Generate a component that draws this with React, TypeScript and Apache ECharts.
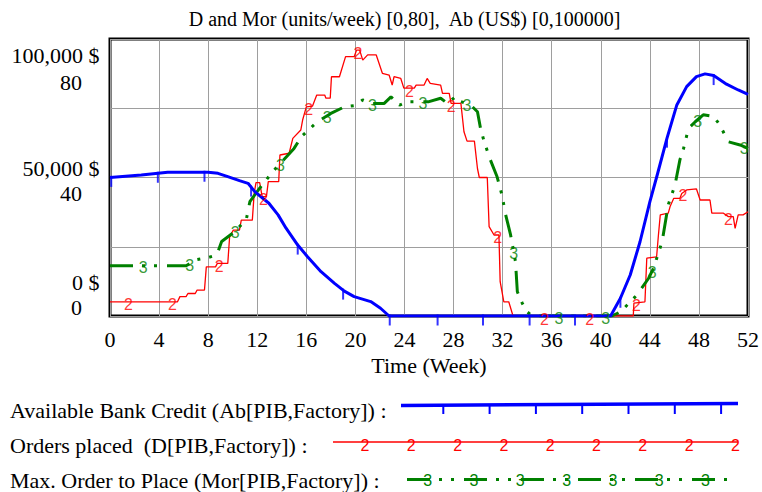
import React, { useEffect, useRef } from "react";
import * as echarts from "echarts";

// Time (Week), value pairs
const abData: [number, number][] = [
  [0, 50000], [2.55, 50900], [4.7, 51900], [8.0, 51900], [8.8, 51500], [9.6, 50300],
  [10.55, 48850], [11.25, 47900], [11.8, 44900], [12.95, 40700], [13.7, 36500], [14.35, 31700],
  [15.3, 25600], [16.1, 21400], [17.2, 16000], [18.3, 11800], [19.1, 9000], [19.9, 7000],
  [21.25, 5200], [22.05, 2800], [22.75, 0], [40.8, 0], [41.6, 6400], [42.4, 14800],
  [43.2, 26800], [44.0, 41200], [44.6, 50900], [45.4, 64200], [46.2, 76200], [47.0, 82800],
  [47.8, 86400], [48.5, 87400], [49.2, 86800], [50.25, 83700], [51.2, 81600], [52, 80000],
];

const dData: [number, number][] = [
  [0, 4.1], [5.5, 4.1], [5.7, 5.6], [6.2, 5.6], [6.35, 6.5], [6.95, 6.5], [7.1, 7.5], [7.7, 7.5],
  [7.85, 14.2], [8.6, 14.2], [8.75, 15.2], [9.6, 15.2], [9.75, 22.9], [10.05, 24.8], [10.55, 24.8],
  [10.7, 27.7], [11.6, 27.7], [11.75, 35.4], [11.9, 38.5], [12.2, 38.5], [12.4, 34.5], [12.75, 34.5],
  [12.9, 38.8], [13.75, 38.8], [13.85, 46.5], [14.6, 47.0], [14.9, 51.3], [15.55, 53.7], [15.7, 56.6],
  [16.0, 60.4], [16.5, 60.6], [16.85, 63.8], [17.5, 63.8], [17.6, 62.9], [17.95, 62.9], [18.05, 69.1],
  [18.7, 69.1], [19.2, 74.9], [19.9, 74.9], [20.1, 76.8], [20.35, 76.8], [20.6, 73.9], [21.0, 75.4],
  [21.7, 75.4], [22.2, 70.1], [22.75, 69.6], [23.0, 66.7], [23.15, 69.1], [23.7, 68.6], [23.95, 65.8],
  [24.8, 65.8], [24.95, 66.7], [25.6, 66.7], [25.85, 68.6], [26.1, 67.2], [26.95, 66.7], [27.1, 64.3],
  [27.65, 64.3], [27.8, 61.4], [28.6, 61.4], [28.85, 53.2], [29.1, 50.5], [29.7, 50.5], [29.95, 42.6],
  [30.1, 40.0], [30.75, 40.0], [30.9, 25.8], [31.3, 23.4], [31.7, 23.4], [31.8, 9.9], [32.1, 4.1],
  [32.5, 4.1], [32.85, 0], [42.65, 0], [42.7, 3.7], [43.6, 4.1], [43.75, 16.7], [44.55, 17.1],
  [44.7, 23.4], [44.85, 29.2], [45.5, 29.7], [45.65, 31.6], [45.95, 34.0], [46.45, 34.0], [46.6, 35.4],
  [47.0, 36.4], [47.8, 36.7], [48.1, 33.5], [48.9, 33.5], [49.05, 29.7], [50.0, 29.7], [50.4, 28.7],
  [50.8, 28.7], [50.95, 25.3], [51.2, 29.2], [51.6, 29.2], [52, 30.1],
];

const morData: [number, number][] = [
  [0, 14.5], [6.2, 14.5], [7.1, 16.3], [8.0, 16.9], [8.7, 17.6], [9.1, 21.5], [10.0, 23.9],
  [11.1, 27.7], [11.4, 33.0], [12.2, 36.9], [13.0, 40.5], [13.4, 42.2], [15.0, 48.4], [15.6, 51.8],
  [16.9, 56.1], [18.0, 58.5], [19.1, 60.4], [20.0, 60.8], [20.6, 62.4], [21.3, 61.4], [22.35, 61.4],
  [22.9, 63.3], [23.6, 60.9], [24.25, 61.9], [26.0, 61.9], [26.95, 62.9], [27.5, 61.4], [28.15, 63.3],
  [28.6, 61.9], [29.4, 60.9], [29.95, 59.0], [30.2, 54.2], [30.5, 50.3], [31.0, 45.1], [31.55, 40.2],
  [31.95, 34.9], [32.25, 29.2], [32.65, 23.4], [33.05, 15.7], [33.2, 7.0], [33.6, 3.7], [34.0, 1.2],
  [34.4, 0], [40.9, 0], [41.6, 1.2], [42.3, 3.7], [42.95, 6.1], [43.9, 10.9], [44.3, 13.8],
  [45.0, 21.5], [45.5, 32.1], [46.05, 37.8], [46.45, 45.1], [46.75, 48.4], [47.15, 54.2], [47.7, 56.1],
  [48.35, 58.1], [49.2, 57.6], [49.7, 55.2], [50.4, 50.3], [51.35, 49.4], [52, 48.4],
];

// weeks where the line markers sit
const abTickWeeks = [0.1, 3.9, 7.7, 11.5, 15.3, 19.0, 22.8, 26.7, 30.4, 34.2, 37.9, 41.6, 45.4, 49.2];
const dMarkWeeks = [1.5, 5.1, 8.9, 12.5, 16.2, 20.2, 24.4, 27.8, 31.6, 35.4, 39.1, 42.9, 46.7, 50.4];
const morMarkWeeks = [2.7, 6.5, 10.2, 13.9, 17.7, 21.4, 25.5, 29.1, 32.9, 36.6, 40.4, 44.2, 47.9, 51.7];

const abAxisLabels = ["100,000 $", "50,000 $", "0 $"];
const dAxisLabels = ["80", "40", "0"];
const titleText = "D and Mor (units/week) [0,80],  Ab (US$) [0,100000]";
const xAxisName = "Time (Week)";
const legendLabels = [
  "Available Bank Credit (Ab[PIB,Factory]) :",
  "Orders placed  (D[PIB,Factory]) :",
  "Max. Order to Place (Mor[PIB,Factory]) :",
];

const SERIF = "'Liberation Serif', 'Times New Roman', serif";
const SANS = "'Liberation Sans', Arial, sans-serif";
const BLUE = "#0000ff";
const RED = "#ff0000";
const GREEN = "#008000";

function valueAt(data: [number, number][], t: number): number {
  for (let i = 1; i < data.length; i++) {
    const [t0, v0] = data[i - 1];
    const [t1, v1] = data[i];
    if (t >= t0 && t <= t1) {
      if (t1 === t0) return v1;
      return v0 + ((v1 - v0) * (t - t0)) / (t1 - t0);
    }
  }
  return data[data.length - 1][1];
}

function buildGraphic() {
  const g: any[] = [];
  g.push({
    type: "text",
    x: 404.5,
    y: 19,
    style: { text: titleText, fontSize: 20, fontFamily: SERIF, fill: "#000", align: "center", verticalAlign: "middle" },
  });
  const abY = [55, 168, 282];
  const dY = [82, 193, 307];
  abAxisLabels.forEach((txt, i) => {
    g.push({
      type: "text",
      x: 99.5,
      y: abY[i],
      style: { text: txt, fontSize: 22, fontFamily: SERIF, fill: "#000", align: "right", verticalAlign: "middle" },
    });
  });
  dAxisLabels.forEach((txt, i) => {
    g.push({
      type: "text",
      x: 82,
      y: dY[i],
      style: { text: txt, fontSize: 22, fontFamily: SERIF, fill: "#000", align: "right", verticalAlign: "middle" },
    });
  });
  const rowY = [410, 445, 480.3];
  legendLabels.forEach((txt, i) => {
    g.push({
      type: "text",
      x: 10,
      y: rowY[i],
      style: { text: txt, fontSize: 22, fontFamily: SERIF, fill: "#000", align: "left", verticalAlign: "middle" },
    });
  });
  // legend sample: blue with ticks
  g.push({ type: "line", shape: { x1: 401, y1: 405.5, x2: 738, y2: 403.5 }, style: { stroke: BLUE, lineWidth: 3.5 } });
  for (let i = 0; i < 7; i++) {
    const x = 443.3 + i * 46.3;
    g.push({ type: "line", shape: { x1: x, y1: 404, x2: x, y2: 414 }, style: { stroke: BLUE, lineWidth: 2 } });
  }
  // red
  g.push({ type: "line", shape: { x1: 333, y1: 442, x2: 738, y2: 442 }, style: { stroke: RED, lineWidth: 1.3 } });
  for (let i = 0; i < 9; i++) {
    g.push({
      type: "text",
      x: 365 + i * 46.3,
      y: 445,
      style: { text: "2", fontSize: 16, fontFamily: SANS, fill: RED, align: "center", verticalAlign: "middle" },
    });
  }
  // green
  g.push({
    type: "line",
    shape: { x1: 407, y1: 479.5, x2: 735, y2: 479.5 },
    style: { stroke: GREEN, lineWidth: 3, lineDash: [23, 9, 3, 9, 3, 10] },
  });
  for (let i = 0; i < 7; i++) {
    g.push({
      type: "text",
      x: 427.7 + i * 46.3,
      y: 480.5,
      style: { text: "3", fontSize: 16, fontFamily: SANS, fill: GREEN, align: "center", verticalAlign: "middle" },
    });
  }
  return g;
}

export default function App() {
  const ref = useRef<HTMLDivElement>(null);
  useEffect(() => {
    if (!ref.current) return;
    const chart = echarts.init(ref.current, undefined, { renderer: "svg" });
    const gridLine = { show: true, lineStyle: { color: "#9e9e9e", width: 1 } };
    const option: any = {
      animation: false,
      backgroundColor: "#fff",
      grid: { left: 110, top: 39, right: 14, bottom: 176, show: true, borderColor: "#000", borderWidth: 3 },
      xAxis: {
        type: "value",
        min: 0,
        max: 52,
        interval: 4,
        axisLine: { show: false },
        axisTick: { show: false },
        splitLine: gridLine,
        axisLabel: { fontSize: 22, fontFamily: SERIF, color: "#000", margin: 12 },
        name: xAxisName,
        nameLocation: "middle",
        nameGap: 38,
        nameTextStyle: { fontSize: 22, fontFamily: SERIF, color: "#000" },
      },
      yAxis: [
        {
          type: "value",
          min: 0,
          max: 80,
          interval: 20,
          axisLabel: { show: false },
          axisLine: { show: false },
          axisTick: { show: false },
          splitLine: gridLine,
        },
        { type: "value", min: 0, max: 100000, show: false, splitLine: { show: false } },
      ],
      series: [
        {
          type: "line",
          name: "Orders placed",
          data: dData,
          yAxisIndex: 0,
          symbol: "none",
          showSymbol: false,
          lineStyle: { color: RED, width: 1.3 },
          z: 2,
        },
        {
          type: "line",
          name: "Max. Order to Place",
          data: morData,
          yAxisIndex: 0,
          symbol: "none",
          showSymbol: false,
          lineStyle: { color: GREEN, width: 3, type: [23, 9, 3, 9, 3, 10] },
          z: 3,
        },
        {
          type: "line",
          name: "Available Bank Credit",
          data: abData,
          yAxisIndex: 1,
          symbol: "none",
          showSymbol: false,
          lineStyle: { color: BLUE, width: 3 },
          z: 4,
        },
        {
          type: "scatter",
          yAxisIndex: 1,
          clip: false,
          data: abTickWeeks.map((t) => [t, valueAt(abData, t)]),
          symbol: "rect",
          symbolSize: [2, 11],
          symbolOffset: [0, 4],
          itemStyle: { color: BLUE },
          z: 5,
        },
        {
          type: "scatter",
          yAxisIndex: 0,
          clip: false,
          data: dMarkWeeks.map((t) => [t, valueAt(dData, t)]),
          symbol: "circle",
          symbolSize: 1,
          itemStyle: { color: "rgba(0,0,0,0)" },
          label: { show: true, position: "inside", formatter: "2", color: RED, fontSize: 16, fontFamily: SANS, offset: [0, 3] },
          z: 6,
        },
        {
          type: "scatter",
          yAxisIndex: 0,
          clip: false,
          data: morMarkWeeks.map((t) => [t, valueAt(morData, t)]),
          symbol: "circle",
          symbolSize: 1,
          itemStyle: { color: "rgba(0,0,0,0)" },
          label: { show: true, position: "inside", formatter: "3", color: GREEN, fontSize: 16, fontFamily: SANS, offset: [0, 2] },
          z: 6,
        },
      ],
      graphic: buildGraphic(),
    };
    chart.setOption(option);
    return () => chart.dispose();
  }, []);
  return (
    <div
      ref={ref}
      style={{ position: "fixed", left: 0, top: 0, width: 762, height: 492, background: "#fff" }}
    />
  );
}
